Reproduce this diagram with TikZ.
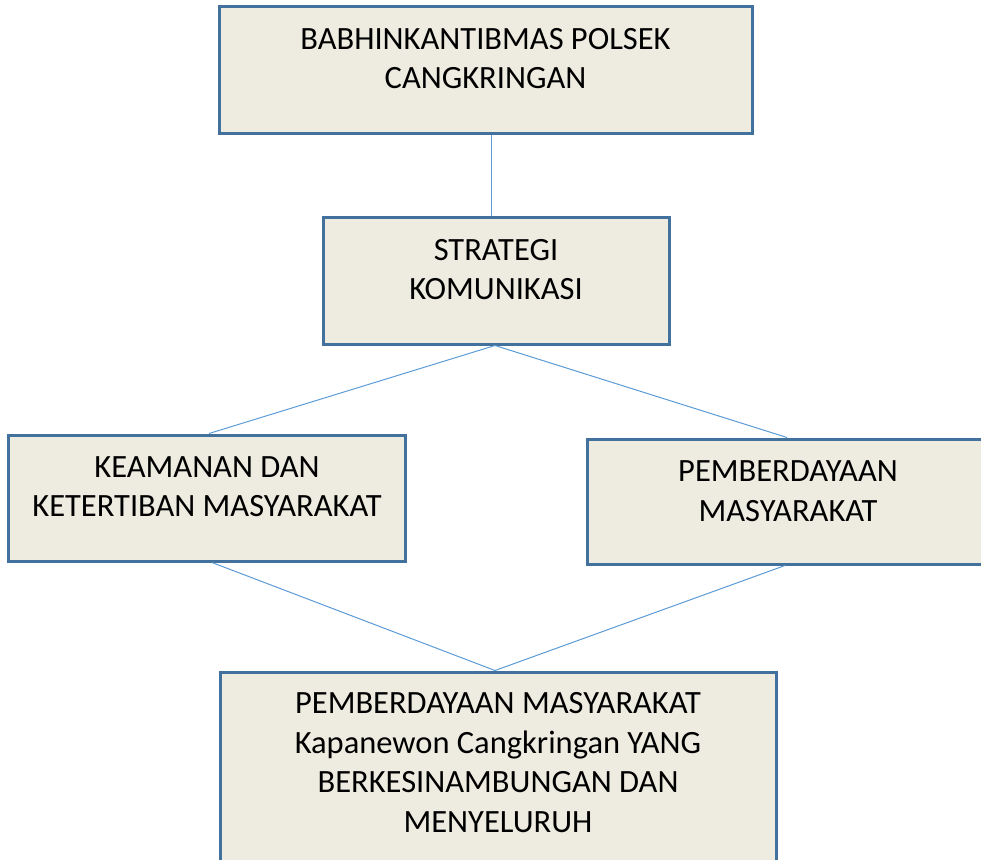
\documentclass[tikz,border=0pt]{standalone}
\usepackage{fontspec}
\setmainfont{Carlito}
\definecolor{boxfill}{HTML}{EEECE1}
\definecolor{boxline}{HTML}{41719C}
\definecolor{conn}{HTML}{5B9BD5}
\begin{document}
\begin{tikzpicture}[x=1pt,y=-1pt,
  box/.style={draw=boxline,fill=boxfill,line width=3pt,rectangle,inner sep=0pt},
  txt/.style={align=center,inner sep=0pt,font=\fontsize{32.5}{39.5}\selectfont},
  conn/.style={draw=conn,line width=1pt}]
\useasboundingbox (0,0) rectangle (981,859);
\clip (0,0) rectangle (981,859);
\node[box,minimum width=533pt,minimum height=126pt] (b1) at (485.5,70) {};
\node[box,minimum width=346pt,minimum height=127pt] (b2) at (496,280.5) {};
\node[box,minimum width=397pt,minimum height=126pt] (b3) at (206.5,498) {};
\node[box,minimum width=402pt,minimum height=125pt] (b4) at (788,501.5) {};
\node[box,minimum width=556pt,minimum height=200pt] (b5) at (498,772) {};
\node[txt] (t1) at (485.5,58.5) {BABHINKANTIBMAS POLSEK\\CANGKRINGAN};
\node[txt] (t2) at (496,269.5) {STRATEGI\\KOMUNIKASI};
\node[txt] (t3) at (207,486.5) {KEAMANAN DAN\\KETERTIBAN MASYARAKAT};
\node[txt] (t4) at (788,491) {PEMBERDAYAAN\\MASYARAKAT};
\node[txt] (t5) at (498,762.5) {PEMBERDAYAAN MASYARAKAT\\Kapanewon Cangkringan YANG\\BERKESINAMBUNGAN DAN\\MENYELURUH};
\draw[conn] ([xshift=5.5]b1.south) -- ([xshift=-5]b2.north);
\draw[conn] ([xshift=-1]b2.south) -- ([xshift=2.5]b3.north);
\draw[conn] ([xshift=-1]b2.south) -- ([xshift=-1]b4.north);
\draw[conn] ([xshift=5.5]b3.south) -- ([xshift=-3]b5.north);
\draw[conn] ([xshift=-3]b4.south) -- ([xshift=-3]b5.north);
\end{tikzpicture}
\end{document}
